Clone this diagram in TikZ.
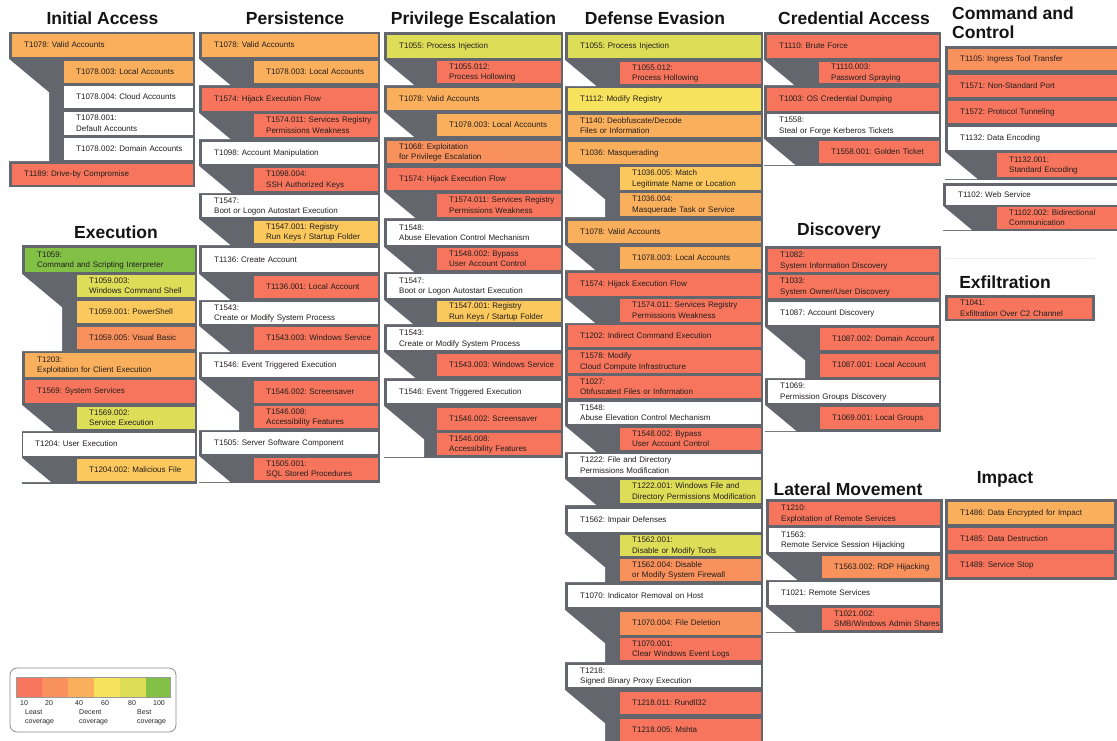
\documentclass[tikz,border=0pt]{standalone}
\usepackage{fontspec}
\setmainfont{Liberation Sans}
\definecolor{gframe}{RGB}{99,102,108}
\definecolor{cA}{RGB}{246,117,92}
\definecolor{cB}{RGB}{248,145,92}
\definecolor{cC}{RGB}{250,175,92}
\definecolor{cD}{RGB}{250,200,92}
\definecolor{cE}{RGB}{246,226,92}
\definecolor{cF}{RGB}{222,221,88}
\definecolor{cG}{RGB}{130,192,70}
\definecolor{txt}{RGB}{35,30,30}

% technique box: name, x1, y1, x2, y2, fill, text (lines never wrap)
\newcommand\tq[7]{%
  \pgfmathsetmacro\tqw{#4-#2}%
  \pgfmathsetmacro\tqh{#5-#3}%
  \pgfmathsetmacro\tqt{#4-#2-24}%
  \node[tq, fill=#6, minimum width=\tqw pt, minimum height=\tqh pt, text width=\tqt pt] (#1) at (#2,#3)
    {\begin{tabular}{@{}l@{}}#7\end{tabular}};%
}
% white notch left of a run of sub-techniques: left, top, bottom
\newcommand\cutout[3]{%
  \pgfmathsetmacro\cuth{#3-#2}%
  \pgfmathsetmacro\cutdx{min(40,1.2*\cuth)}%
  \pgfmathsetmacro\cutdy{\cutdx/1.2}%
  \fill[white] (#1,#2) -- ++(\cutdx,\cutdy) -- (#1+\cutdx,#3) -- (#1,#3) -- cycle;%
}

\begin{document}
\frenchspacing
\begin{tikzpicture}[x=1pt,y=-1pt,
  tq/.style={anchor=north west, inner xsep=12pt, inner ysep=0pt, align=left,
    font=\fontsize{8}{10.5}\selectfont, text=txt},
  ttl/.style={anchor=base, inner sep=0pt, font=\fontsize{17.5}{18.5}\selectfont\bfseries, text=black!92},
  lg/.style={anchor=north west, inner sep=0pt, align=left, font=\fontsize{7}{9.5}\selectfont, text=black!85}]
\useasboundingbox[fill=white] (0,0) rectangle (1117,740);

% ---------- titles
\node[ttl] (tIA) at (102.5,24.5) {Initial Access};
\node[ttl] (tPE) at (295,24.5) {Persistence};
\node[ttl] (tPR) at (473.5,24.5) {Privilege Escalation};
\node[ttl] (tDE) at (655,24.5) {Defense Evasion};
\node[ttl] (tCA) at (854,24.5) {Credential Access};
\node[ttl, anchor=north west, align=left] (tC2) at (952,7) {Command and\\Control};
\node[ttl] (tEX) at (116,238) {Execution};
\node[ttl] (tDI) at (839,235) {Discovery};
\node[ttl] (tLM) at (848,495) {Lateral Movement};
\node[ttl] (tXF) at (1005,288) {Exfiltration};
\node[ttl] (tIM) at (1005,483) {Impact};

% ---------- Initial Access
\fill[gframe] (9,32) rectangle (195,187);
\cutout{9}{59}{161}
\tq{ia1}{12}{34}{193}{57}{cC}{T1078: Valid Accounts}
\tq{ia1a}{64}{61}{193}{83}{cC}{T1078.003: Local Accounts}
\tq{ia1b}{64}{86}{193}{108}{white}{T1078.004: Cloud Accounts}
\tq{ia1c}{64}{112}{193}{135}{white}{T1078.001:\\Default Accounts}
\tq{ia1d}{64}{138}{193}{160}{white}{T1078.002: Domain Accounts}
\tq{ia2}{12}{164}{193}{185}{cA}{T1189: Drive-by Compromise}

% ---------- Execution
\fill[gframe] (22,245) rectangle (197,484);
\cutout{22}{274}{351}
\cutout{22}{405}{431}
\cutout{22}{458}{482}
\tq{ex1}{25}{248}{195}{272}{cG}{T1059:\\Command and Scripting Interpreter}
\tq{ex1a}{77}{275}{195}{297}{cF}{T1059.003:\\Windows Command Shell}
\tq{ex1b}{77}{301}{195}{323}{cD}{T1059.001: PowerShell}
\tq{ex1c}{77}{327}{195}{349}{cB}{T1059.005: Visual Basic}
\tq{ex2}{25}{353}{195}{377}{cC}{T1203:\\Exploitation for Client Execution}
\tq{ex3}{25}{380}{195}{403}{cA}{T1569: System Services}
\tq{ex3a}{77}{407}{195}{429}{cF}{T1569.002:\\Service Execution}
\tq{ex4}{23}{433}{195}{456}{white}{T1204: User Execution}
\tq{ex4a}{77}{459}{195}{481}{cD}{T1204.002: Malicious File}

% ---------- Persistence
\fill[gframe] (199,32) rectangle (380,483);
\cutout{199}{59}{85}
\cutout{199}{113}{139}
\cutout{199}{166}{193}
\cutout{199}{219}{245}
\cutout{199}{274}{300}
\cutout{199}{326}{352}
\cutout{199}{379}{430}
\cutout{199}{456}{482}
\tq{ps1}{202}{34}{378}{57}{cC}{T1078: Valid Accounts}
\tq{ps1a}{254}{61}{378}{83}{cC}{T1078.003: Local Accounts}
\tq{ps2}{202}{88}{378}{111}{cA}{T1574: Hijack Execution Flow}
\tq{ps2a}{254}{114}{378}{137}{cA}{T1574.011: Services Registry\\Permissions Weakness}
\tq{ps3}{202}{142}{378}{164}{white}{T1098: Account Manipulation}
\tq{ps3a}{254}{168}{378}{191}{cA}{T1098.004:\\SSH Authorized Keys}
\tq{ps4}{202}{195}{378}{217}{white}{T1547:\\Boot or Logon Autostart Execution}
\tq{ps4a}{254}{221}{378}{243}{cD}{T1547.001: Registry\\Run Keys / Startup Folder}
\tq{ps5}{202}{248}{378}{272}{white}{T1136: Create Account}
\tq{ps5a}{254}{276}{378}{298}{cA}{T1136.001: Local Account}
\tq{ps6}{202}{302}{378}{324}{white}{T1543:\\Create or Modify System Process}
\tq{ps6a}{254}{327}{378}{350}{cA}{T1543.003: Windows Service}
\tq{ps7}{202}{354}{378}{377}{white}{T1546: Event Triggered Execution}
\tq{ps7a}{254}{381}{378}{403}{cA}{T1546.002: Screensaver}
\tq{ps7b}{254}{406}{378}{428}{cA}{T1546.008:\\Accessibility Features}
\tq{ps8}{202}{432}{378}{454}{white}{T1505: Server Software Component}
\tq{ps8a}{254}{458}{378}{480}{cA}{T1505.001:\\SQL Stored Procedures}

% ---------- Privilege Escalation
\fill[gframe] (384,32) rectangle (563,458);
\cutout{384}{60}{85}
\cutout{384}{112}{137}
\cutout{384}{192}{218}
\cutout{384}{247}{272}
\cutout{384}{300}{324}
\cutout{384}{352}{378}
\cutout{384}{406}{457}
\tq{pr1}{387}{35}{561}{58}{cF}{T1055: Process Injection}
\tq{pr1a}{437}{61}{561}{83}{cA}{T1055.012:\\Process Hollowing}
\tq{pr2}{387}{88}{561}{110}{cC}{T1078: Valid Accounts}
\tq{pr2a}{437}{114}{561}{136}{cC}{T1078.003: Local Accounts}
\tq{pr3}{387}{141}{561}{163}{cB}{T1068: Exploitation\\for Privilege Escalation}
\tq{pr4}{387}{168}{561}{190}{cA}{T1574: Hijack Execution Flow}
\tq{pr4a}{437}{194}{561}{217}{cA}{T1574.011: Services Registry\\Permissions Weakness}
\tq{pr5}{387}{221}{561}{245}{white}{T1548:\\Abuse Elevation Control Mechanism}
\tq{pr5a}{437}{248}{561}{270}{cA}{T1548.002: Bypass\\User Account Control}
\tq{pr6}{387}{274}{561}{298}{white}{T1547:\\Boot or Logon Autostart Execution}
\tq{pr6a}{437}{301}{561}{322}{cD}{T1547.001: Registry\\Run Keys / Startup Folder}
\tq{pr7}{387}{327}{561}{350}{white}{T1543:\\Create or Modify System Process}
\tq{pr7a}{437}{354}{561}{376}{cA}{T1543.003: Windows Service}
\tq{pr8}{387}{381}{561}{403}{white}{T1546: Event Triggered Execution}
\tq{pr8a}{437}{408}{561}{430}{cA}{T1546.002: Screensaver}
\tq{pr8b}{437}{433}{561}{455}{cA}{T1546.008:\\Accessibility Features}

% ---------- Defense Evasion
\fill[gframe] (565,32) rectangle (763,742);
\cutout{565}{60}{86}
\cutout{565}{166}{217}
\cutout{565}{245}{270}
\cutout{565}{298}{323}
\cutout{565}{426}{452}
\cutout{565}{479}{505}
\cutout{565}{534}{582}
\cutout{565}{610}{662}
\cutout{565}{690}{742}
\tq{de1}{568}{35}{761}{58}{cF}{T1055: Process Injection}
\tq{de1a}{620}{62}{761}{84}{cA}{T1055.012:\\Process Hollowing}
\tq{de2}{568}{88}{761}{111}{cE}{T1112: Modify Registry}
\tq{de3}{568}{115}{761}{137}{cC}{T1140: Deobfuscate/Decode\\Files or Information}
\tq{de4}{568}{142}{761}{164}{cC}{T1036: Masquerading}
\tq{de4a}{620}{167}{761}{190}{cD}{T1036.005: Match\\Legitimate Name or Location}
\tq{de4b}{620}{193}{761}{216}{cC}{T1036.004:\\Masquerade Task or Service}
\tq{de5}{568}{221}{761}{243}{cC}{T1078: Valid Accounts}
\tq{de5a}{620}{247}{761}{269}{cC}{T1078.003: Local Accounts}
\tq{de6}{568}{273}{761}{296}{cA}{T1574: Hijack Execution Flow}
\tq{de6a}{620}{299}{761}{322}{cA}{T1574.011: Services Registry\\Permissions Weakness}
\tq{de7}{568}{325}{761}{347}{cA}{T1202: Indirect Command Execution}
\tq{de8}{568}{350}{761}{373}{cA}{T1578: Modify\\Cloud Compute Infrastructure}
\tq{de9}{568}{376}{761}{398}{cA}{T1027:\\Obfuscated Files or Information}
\tq{de10}{568}{402}{761}{424}{white}{T1548:\\Abuse Elevation Control Mechanism}
\tq{de10a}{620}{428}{761}{450}{cA}{T1548.002: Bypass\\User Account Control}
\tq{de11}{568}{454}{761}{477}{white}{T1222: File and Directory\\Permissions Modification}
\tq{de11a}{620}{480}{761}{503}{cF}{T1222.001: Windows File and\\Directory Permissions Modification}
\tq{de12}{568}{509}{761}{532}{white}{T1562: Impair Defenses}
\tq{de12a}{620}{535}{761}{556}{cF}{T1562.001:\\Disable or Modify Tools}
\tq{de12b}{620}{559}{761}{581}{cB}{T1562.004: Disable\\or Modify System Firewall}
\tq{de13}{568}{585}{761}{607}{white}{T1070: Indicator Removal on Host}
\tq{de13a}{620}{612}{761}{635}{cB}{T1070.004: File Deletion}
\tq{de13b}{620}{638}{761}{660}{cA}{T1070.001:\\Clear Windows Event Logs}
\tq{de14}{568}{665}{761}{687}{white}{T1218:\\Signed Binary Proxy Execution}
\tq{de14a}{620}{692}{761}{714}{cA}{T1218.011: Rundll32}
\tq{de14b}{620}{719}{761}{742}{cA}{T1218.005: Mshta}

% ---------- Credential Access
\fill[gframe] (764,32) rectangle (941,166);
\cutout{764}{60}{85}
\cutout{764}{139}{165}
\tq{ca1}{767}{35}{939}{58}{cA}{T1110: Brute Force}
\tq{ca1a}{819}{62}{939}{83}{cA}{T1110.003:\\Password Spraying}
\tq{ca2}{767}{88}{939}{111}{cA}{T1003: OS Credential Dumping}
\tq{ca3}{767}{114}{939}{137}{white}{T1558:\\Steal or Forge Kerberos Tickets}
\tq{ca3a}{819}{141}{939}{163}{cA}{T1558.001: Golden Ticket}

% ---------- Discovery
\fill[gframe] (765,246) rectangle (941,432);
\cutout{765}{327}{378}
\cutout{765}{405}{431}
\tq{di1}{768}{249}{939}{272}{cA}{T1082:\\System Information Discovery}
\tq{di2}{768}{275}{939}{298}{cA}{T1033:\\System Owner/User Discovery}
\tq{di3}{768}{302}{939}{325}{white}{T1087: Account Discovery}
\tq{di3a}{820}{328}{939}{350}{cA}{T1087.002: Domain Account}
\tq{di3b}{820}{354}{939}{377}{cA}{T1087.001: Local Account}
\tq{di4}{768}{380}{939}{403}{white}{T1069:\\Permission Groups Discovery}
\tq{di4a}{820}{407}{939}{429}{cA}{T1069.001: Local Groups}

% ---------- Lateral Movement
\fill[gframe] (766,499) rectangle (943,633);
\cutout{766}{554}{580}
\cutout{766}{607}{632}
\tq{lm1}{769}{502}{940}{525}{cA}{T1210:\\Exploitation of Remote Services}
\tq{lm2}{769}{528}{940}{552}{white}{T1563:\\Remote Service Session Hijacking}
\tq{lm2a}{822}{556}{940}{578}{cB}{T1563.002: RDP Hijacking}
\tq{lm3}{769}{582}{940}{605}{white}{T1021: Remote Services}
\tq{lm3a}{822}{608}{940}{630}{cA}{T1021.002:\\SMB/Windows Admin Shares}

% ---------- Command and Control
\fill[gframe] (945,46) rectangle (1119,180);
\cutout{945}{152}{179}
\fill[gframe] (943,183) rectangle (1119,231);
\cutout{943}{206}{230}
\tq{cc1}{948}{49}{1119}{70}{cB}{T1105: Ingress Tool Transfer}
\tq{cc2}{948}{75}{1119}{97}{cA}{T1571: Non-Standard Port}
\tq{cc3}{948}{101}{1119}{123}{cA}{T1572: Protocol Tunneling}
\tq{cc4}{948}{127}{1119}{150}{white}{T1132: Data Encoding}
\tq{cc4a}{997}{153}{1119}{177}{cA}{T1132.001:\\Standard Encoding}
\tq{cc5}{946}{186}{1119}{205}{white}{T1102: Web Service}
\tq{cc5a}{997}{207}{1119}{229}{cA}{T1102.002: Bidirectional\\Communication}

% ---------- Exfiltration
\draw[black!7, line width=0.8pt] (945,258) -- (1095,258);
\fill[gframe] (945,295) rectangle (1095,321);
\tq{xf1}{948}{298}{1092}{318}{cA}{T1041:\\Exfiltration Over C2 Channel}

% ---------- Impact
\fill[gframe] (945,499) rectangle (1117,580);
\tq{im1}{948}{502}{1114}{524}{cC}{T1486: Data Encrypted for Impact}
\tq{im2}{948}{528}{1114}{550}{cA}{T1485: Data Destruction}
\tq{im3}{948}{554}{1114}{577}{cA}{T1489: Service Stop}

% ---------- coverage legend
\draw[black!45, line width=0.8pt, rounded corners=7pt] (10,668) rectangle (176,732);
\fill[cA] (16,677) rectangle (42,697);
\fill[cB] (42,677) rectangle (68,697);
\fill[cC] (68,677) rectangle (94,697);
\fill[cE] (94,677) rectangle (120,697);
\fill[cF] (120,677) rectangle (146,697);
\fill[cG] (146,677) rectangle (170,697);
\draw[black!40, line width=0.5pt] (16,677) rectangle (170,697);
\node[lg] (l10) at (20,700) {10};
\node[lg] (l20) at (45,700) {20};
\node[lg] (l40) at (75,700) {40};
\node[lg] (l60) at (101,700) {60};
\node[lg] (l80) at (128,700) {80};
\node[lg] (l100) at (153,700) {100};
\node[lg] (lleast) at (25,709) {Least\\coverage};
\node[lg] (ldecent) at (79,709) {Decent\\coverage};
\node[lg] (lbest) at (137,709) {Best\\coverage};
\end{tikzpicture}
\end{document}
